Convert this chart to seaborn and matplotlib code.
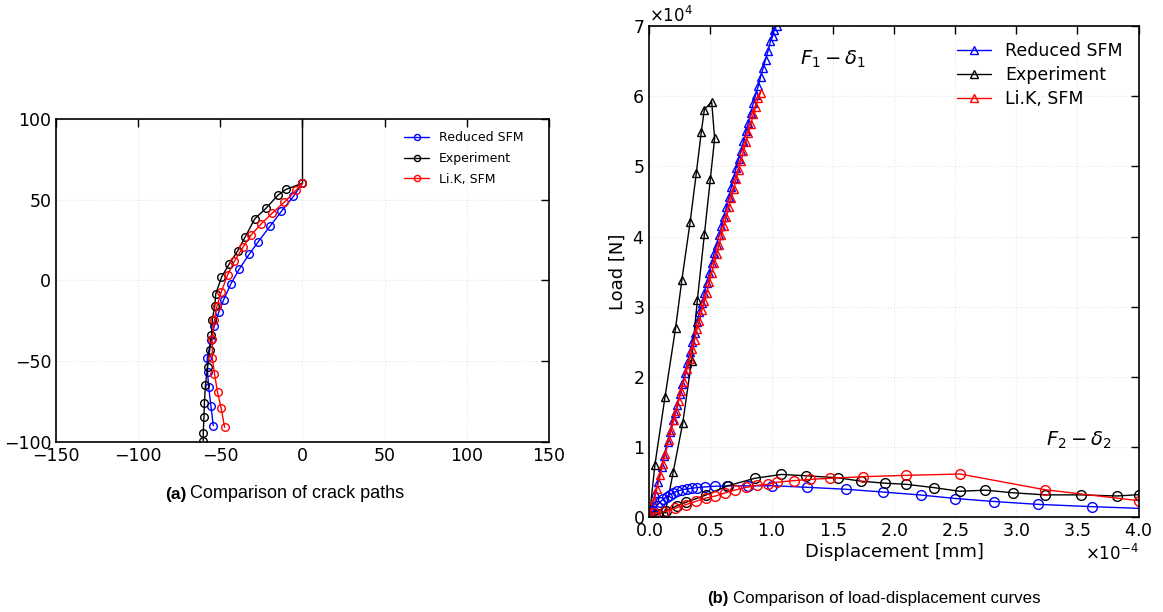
import numpy as np
import pandas as pd
import matplotlib
matplotlib.use("Agg")
import matplotlib.pyplot as plt
import seaborn as sns

# ---- (a) crack paths ----
crack_x_reduced = [0.0, -5.5, -12.8, -19.9, -26.9, -32.4, -38.4, -43.5, -47.9, -51.0, -53.6, -55.6,
                   -58.0, -57.8, -57.1, -55.7, -54.3]
crack_y_reduced = [60.0, 52.0, 42.7, 33.3, 23.9, 16.2, 7.1, -2.0, -11.9, -19.8, -28.0, -36.7,
                   -48.3, -56.8, -66.0, -78.0, -89.9]
crack_x_exp = [0.0, -10.2, -15.1, -22.3, -29.0, -35.0, -39.4, -44.6, -49.3, -52.8, -53.4, -54.9,
               -55.4, -56.5, -57.8, -59.1, -59.7, -60.0, -60.4, -60.4]
crack_y_exp = [60.1, 56.2, 52.5, 44.5, 38.1, 26.6, 18.3, 10.1, 1.9, -8.4, -16.1, -24.3,
               -33.8, -43.0, -53.8, -65.1, -75.8, -84.9, -94.3, -99.3]
crack_x_lik = [0.0, -3.7, -11.0, -18.4, -25.1, -31.1, -36.3, -41.5, -45.6, -49.5, -52.1, -53.6,
               -54.9, -54.9, -53.6, -51.7, -49.5, -47.4]
crack_y_lik = [60.0, 56.0, 48.4, 41.6, 35.0, 28.2, 20.4, 11.7, 3.3, -7.4, -16.1, -24.3,
               -36.3, -48.0, -57.7, -69.4, -79.1, -91.0]
notch_x = [0.0, 0.0]
notch_y = [60.0, 100.0]

# ---- (b) load-displacement (x in 1e-4 mm, y in 1e4 N) ----
f1_reduced_d = [0.00, 0.02, 0.05, 0.07, 0.10, 0.12, 0.15, 0.17, 0.19, 0.21, 0.23, 0.25, 0.27, 0.29,
                0.31, 0.33, 0.35, 0.37, 0.39, 0.41, 0.43, 0.45, 0.47, 0.49, 0.51, 0.53, 0.55, 0.57,
                0.59, 0.61, 0.63, 0.65, 0.67, 0.69, 0.71, 0.73, 0.75, 0.77, 0.79, 0.81, 0.83, 0.85,
                0.87, 0.89, 0.91, 0.93, 0.95, 0.97, 0.99, 1.01, 1.02, 1.04, 1.06]
f1_reduced_f = [0.00, 0.15, 0.35, 0.50, 0.72, 0.88, 1.08, 1.22, 1.38, 1.48, 1.60, 1.75, 1.90, 2.05,
                2.20, 2.35, 2.50, 2.62, 2.78, 2.92, 3.06, 3.20, 3.34, 3.48, 3.62, 3.76, 3.88, 4.02,
                4.15, 4.28, 4.42, 4.56, 4.70, 4.84, 4.98, 5.10, 5.22, 5.36, 5.50, 5.62, 5.76, 5.90,
                6.02, 6.14, 6.28, 6.40, 6.52, 6.64, 6.78, 6.86, 6.95, 7.00, 7.10]
f1_exp_d = [0.00, 0.046, 0.128, 0.215, 0.266, 0.334, 0.384, 0.425, 0.45, 0.51, 0.534, 0.499,
            0.451, 0.393, 0.346, 0.273, 0.196, 0.13]
f1_exp_f = [0.00, 0.75, 1.71, 2.70, 3.38, 4.21, 4.90, 5.49, 5.81, 5.92, 5.40, 4.82,
            4.04, 3.10, 2.23, 1.34, 0.65, 0.06]
f1_lik_d = [0.00, 0.02, 0.04, 0.06, 0.09, 0.11, 0.13, 0.16, 0.18, 0.20, 0.22, 0.24, 0.26, 0.28,
            0.31, 0.33, 0.35, 0.37, 0.39, 0.41, 0.43, 0.45, 0.47, 0.49, 0.51, 0.53, 0.55, 0.57,
            0.59, 0.61, 0.63, 0.65, 0.67, 0.69, 0.71, 0.73, 0.75, 0.77, 0.79, 0.81, 0.83, 0.85,
            0.87, 0.89, 0.91]
f1_lik_f = [0.00, 0.12, 0.25, 0.40, 0.60, 0.76, 0.90, 1.10, 1.25, 1.38, 1.52, 1.66, 1.80, 1.93,
            2.12, 2.26, 2.40, 2.53, 2.68, 2.80, 2.95, 3.08, 3.20, 3.35, 3.48, 3.62, 3.75, 3.88,
            4.02, 4.15, 4.28, 4.42, 4.55, 4.68, 4.82, 4.95, 5.08, 5.22, 5.35, 5.48, 5.60, 5.74,
            5.85, 5.97, 6.05]

f2_reduced_d = [0.00, 0.033, 0.06, 0.087, 0.114, 0.142, 0.169, 0.196, 0.223, 0.264, 0.305, 0.346,
                0.392, 0.455, 0.537, 0.638, 0.81, 1.004, 1.286, 1.604, 1.913, 2.218, 2.503, 2.822,
                3.175, 3.617, 4.05]
f2_reduced_f = [0.00, 0.095, 0.167, 0.214, 0.262, 0.295, 0.324, 0.348, 0.371, 0.39, 0.405, 0.414,
                0.424, 0.433, 0.443, 0.448, 0.448, 0.45, 0.428, 0.40, 0.36, 0.318, 0.268, 0.225,
                0.185, 0.152, 0.125]
f2_exp_d = [0.00, 0.07, 0.137, 0.228, 0.298, 0.461, 0.642, 0.862, 1.08, 1.279, 1.545, 1.73,
            1.923, 2.102, 2.328, 2.536, 2.748, 2.97, 3.233, 3.526, 3.825, 4.0]
f2_exp_f = [0.00, 0.045, 0.094, 0.165, 0.213, 0.316, 0.449, 0.556, 0.611, 0.592, 0.563, 0.515,
            0.487, 0.47, 0.423, 0.371, 0.387, 0.35, 0.32, 0.32, 0.304, 0.323]
f2_lik_d = [0.00, 0.035, 0.123, 0.21, 0.298, 0.38, 0.464, 0.54, 0.622, 0.701, 0.792, 0.882,
            0.97, 1.043, 1.18, 1.314, 1.481, 1.749, 2.1, 2.541, 3.232, 4.0]
f2_lik_f = [0.00, 0.057, 0.08, 0.128, 0.18, 0.228, 0.275, 0.303, 0.35, 0.389, 0.427, 0.456,
            0.47, 0.499, 0.522, 0.541, 0.556, 0.579, 0.598, 0.617, 0.394, 0.237]

labels = ["Reduced SFM", "Experiment", "Li.K, SFM"]
colors = ["#0000ff", "#000000", "#ff0000"]

sns.set_style("white")
plt.rcParams["font.family"] = ["DejaVu Sans"]
plt.rcParams["mathtext.fontset"] = "dejavusans"
for key in ("text.color", "axes.labelcolor", "xtick.color", "ytick.color"):
    plt.rcParams[key] = "black"

fig = plt.figure(figsize=(11.63, 6.12), dpi=100)
ax_a = fig.add_axes([0.0482, 0.278, 0.4238, 0.528])
ax_b = fig.add_axes([0.5583, 0.1547, 0.4207, 0.8028])


def draw(ax, xs, ys, color, marker, ms, label=None, scale_x=1.0, scale_y=1.0):
    df = pd.DataFrame({"x": np.asarray(xs) * scale_x, "y": np.asarray(ys) * scale_y})
    sns.lineplot(data=df, x="x", y="y", sort=False, estimator=None, ax=ax, color=color,
                 marker=marker, markersize=ms, markerfacecolor="none", markeredgecolor=color,
                 markeredgewidth=1.0, linewidth=1.0, label=label)


# panel (a)
ax_a.plot(notch_x, notch_y, color="black", linewidth=1.0)
for (xs, ys), lab, col in zip([(crack_x_reduced, crack_y_reduced), (crack_x_exp, crack_y_exp),
                               (crack_x_lik, crack_y_lik)], labels, colors):
    draw(ax_a, xs, ys, col, "o", 5.5, label=lab)
ax_a.set_xlim(-150, 150)
ax_a.set_ylim(-100, 100)
ax_a.set_xticks(np.arange(-150, 151, 50))
ax_a.set_yticks(np.arange(-100, 101, 50))
ax_a.set_xlabel("")
ax_a.set_ylabel("")
ax_a.legend(loc="upper right", bbox_to_anchor=(0.974, 1.0), frameon=False, fontsize=9,
            markerscale=0.8, handlelength=2.0, borderaxespad=0.6, labelspacing=0.62)

# panel (b)
sx, sy = 1e-4, 1e4
for (xs, ys), lab, col in zip([(f1_reduced_d, f1_reduced_f), (f1_exp_d, f1_exp_f),
                               (f1_lik_d, f1_lik_f)], labels, colors):
    draw(ax_b, xs, ys, col, "^", 6, label=lab, scale_x=sx, scale_y=sy)
for (xs, ys), col in zip([(f2_reduced_d, f2_reduced_f), (f2_exp_d, f2_exp_f),
                          (f2_lik_d, f2_lik_f)], colors):
    draw(ax_b, xs, ys, col, "o", 7, scale_x=sx, scale_y=sy)
ax_b.set_xlim(0, 4e-4)
ax_b.set_ylim(0, 7e4)
ax_b.set_xticks(np.arange(0, 4.01e-4, 0.5e-4))
ax_b.set_yticks(np.arange(0, 7.01e4, 1e4))
ax_b.ticklabel_format(style="sci", axis="both", scilimits=(0, 0), useMathText=True)
ax_b.set_xlabel("Displacement [mm]", fontsize=13, labelpad=2)
ax_b.set_ylabel("Load [N]", fontsize=13, labelpad=4)
ax_b.text(1.23e-4, 6.52e4, r"$F_1-\delta_1$", fontsize=14, va="center")
ax_b.text(3.24e-4, 1.1e4, r"$F_2-\delta_2$", fontsize=14, va="center")
ax_b.legend(loc="upper right", frameon=False, fontsize=12.5, handlelength=2.0,
            borderaxespad=0.5, labelspacing=0.35)

for ax in (ax_a, ax_b):
    ax.tick_params(direction="in", top=True, right=True, length=6, width=1, labelsize=12.5)
    ax.grid(True, color="#e6e6e6", linestyle=":", linewidth=0.8)
    for s in ax.spines.values():
        s.set_linewidth(1.2)
        s.set_color("black")
ax_b.xaxis.get_offset_text().set_fontsize(12)
ax_b.yaxis.get_offset_text().set_fontsize(12)

cap_font = ["Liberation Sans", "DejaVu Sans"]
W = 1163.0
fig.text(187 / W, 1 - 494 / 612, "(a)", fontsize=12.5, fontweight="bold", family=cap_font,
         ha="right", va="center")
fig.text(190 / W, 1 - 494 / 612, "Comparison of crack paths", fontsize=13, family=cap_font,
         ha="left", va="center")
fig.text(729 / W, 1 - 598 / 612, "(b)", fontsize=12, fontweight="bold", family=cap_font,
         ha="right", va="center")
fig.text(733 / W, 1 - 598 / 612, "Comparison of load-displacement curves", fontsize=12.2,
         family=cap_font, ha="left", va="center")

fig.savefig("out.png", dpi=100)
